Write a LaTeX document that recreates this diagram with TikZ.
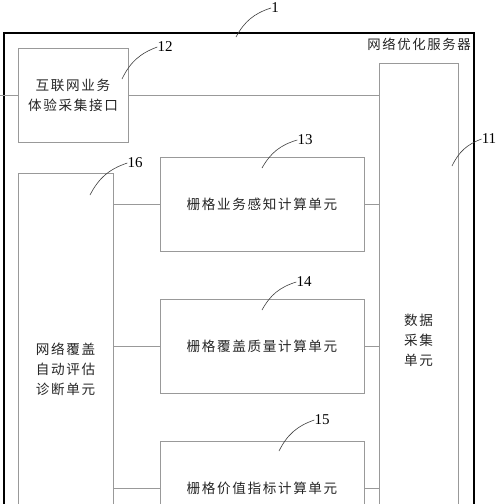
\documentclass[tikz,border=0pt]{standalone}
\usepackage{fontspec}
\setmainfont{Liberation Serif}
\newfontfamily\cjk[LetterSpace=12]{Noto Sans CJK SC}
\begin{document}
\begin{tikzpicture}[x=1pt,y=-1pt,
  unit/.style={draw=black!40, line width=0.8pt, inner sep=0pt, align=center,
    font=\cjk\fontsize{13.6}{20}\selectfont, text=black!85},
  link/.style={draw=black!40, line width=0.8pt},
  leader/.style={draw=black!75, line width=0.6pt},
  num/.style={font=\fontsize{15}{15}\selectfont, inner sep=0pt}]
\clip (0,0) rectangle (500,504);
\fill[white] (0,0) rectangle (500,504);
% outer frame
\node[draw=black, line width=2pt, minimum width=470pt, minimum height=600pt, inner sep=0pt, anchor=north west] (frame) at (3,32) {};
\node[font=\cjk\fontsize{13.4}{13}\selectfont, text=black!85, inner sep=0pt] (title) at (419,44) {网络优化服务器};
% units
\node[unit, minimum width=110pt, minimum height=94pt] (b12) at (73,95) {互联网业务\\体验采集接口};
\node[unit, minimum width=79pt, minimum height=554pt] (b11) at (418.5,340) {数据\\采集\\单元};
\node[unit, minimum width=95pt, minimum height=392pt] (b16) at (65.5,369) {网络覆盖\\自动评估\\诊断单元};
\node[unit, minimum width=204pt, minimum height=94pt] (b13) at (262,204) {栅格业务感知计算单元};
\node[unit, minimum width=204pt, minimum height=94pt] (b14) at (262,346) {栅格覆盖质量计算单元};
\node[unit, minimum width=204pt, minimum height=94pt] (b15) at (262,488) {栅格价值指标计算单元};
% connectors
\coordinate (lin) at (0,95);
\draw[link] (lin) -- (b12.west);
\draw[link] (b12.east) -- (b12.east -| b11.west);
\foreach \b in {b13,b14,b15}{
  \draw[link] (\b.west -| b16.east) -- (\b.west);
  \draw[link] (\b.east) -- (\b.east -| b11.west);
}
% labels and leaders
\node[num] (n1) at (275,8) {1};
\node[num] (n12) at (165,47) {12};
\node[num] (n16) at (135,163) {16};
\node[num] (n13) at (305,140) {13};
\node[num] (n14) at (304,282) {14};
\node[num] (n15) at (322,420) {15};
\node[num] (n11) at (489,139) {11};
\coordinate (p1) at (236,37);
\coordinate (p12) at (122,79);
\coordinate (p16) at (90,195);
\coordinate (p13) at (262,168);
\coordinate (p14) at (262,310);
\coordinate (p15) at (279,451);
\coordinate (p11) at (452,166);
\foreach \n in {1,12,16,13,14,15,11}{
  \draw[leader] (p\n) to[bend left=22] (n\n.west);
}
\end{tikzpicture}
\end{document}
